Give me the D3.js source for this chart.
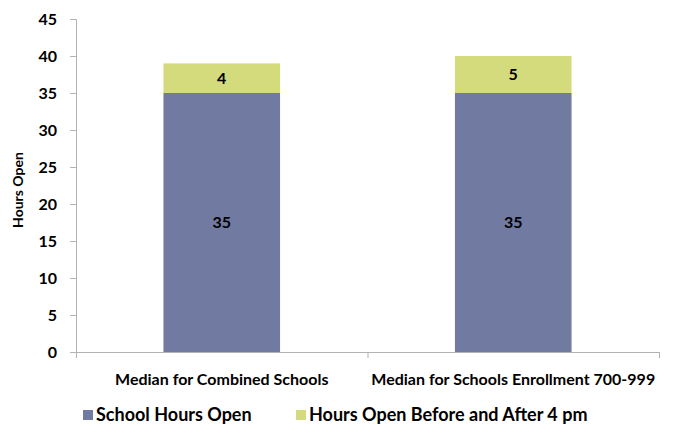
<!DOCTYPE html>
<html>
<head>
<meta charset="utf-8">
<script src="https://cdn.jsdelivr.net/npm/d3@7"></script>
<style>
  body { margin: 0; background: #fff; }
  text { font-family: Lato, "Open Sans", sans-serif; font-weight: bold; fill: #000; }
</style>
</head>
<body>
<div id="chart"></div>
<script>
// chart data
var categories = ["Median for Combined Schools", "Median for Schools Enrollment 700-999"];
var seriesNames = ["School Hours Open", "Hours Open Before and After 4 pm"];
var schoolHours = [35, 35];
var extraHours = [4, 5];
var yTicks = [0, 5, 10, 15, 20, 25, 30, 35, 40, 45];
var colors = ["#717aa0", "#d4db7c"];

var svgWidth = 674;
var svgHeight = 425;
var margin = { top: 19, right: 15, bottom: 73, left: 76 };
var width = svgWidth - margin.left - margin.right;
var height = svgHeight - margin.top - margin.bottom;

var svg = d3.select("#chart").append("svg")
    .attr("width", svgWidth)
    .attr("height", svgHeight);

var chartGroup = svg.append("g")
    .attr("transform", `translate(${margin.left}, ${margin.top})`);

var rows = categories.map(function(c, i) {
    return { cat: c, school: schoolHours[i], extra: extraHours[i] };
});
var stacked = d3.stack().keys(["school", "extra"])(rows);

var xScale = d3.scaleBand().domain(categories).range([0, width]).paddingInner(0.6).paddingOuter(0.3);
var yScale = d3.scaleLinear().domain([0, 45]).range([height, 0]);

// y axis
var yAxis = chartGroup.append("g")
    .call(d3.axisLeft(yScale).tickValues(yTicks).tickSize(6).tickPadding(13));
yAxis.select(".domain").attr("stroke", "#b3b3b3").attr("d", `M-6,0.5H0.5V${height}`);
yAxis.selectAll(".tick line").attr("stroke", "#b3b3b3");
yAxis.selectAll(".tick text").style("font-size", "16px");

// x axis line with ticks at band edges
var xg = chartGroup.append("g").attr("transform", `translate(0, ${height})`);
xg.append("line").attr("x1", 0).attr("x2", width).attr("y1", 0.5).attr("y2", 0.5).attr("stroke", "#b3b3b3");
[0, width / 2, width].forEach(function(x) {
    xg.append("line").attr("x1", x + 0.5).attr("x2", x + 0.5).attr("y1", 0).attr("y2", 6).attr("stroke", "#b3b3b3");
});
var halfStep = width / 4;
categories.forEach(function(c, i) {
    xg.append("text")
        .attr("x", halfStep * (2 * i + 1))
        .attr("y", 33)
        .attr("text-anchor", "middle")
        .style("font-size", "16px")
        .text(c);
});

// bars
stacked.forEach(function(layer, li) {
    chartGroup.selectAll(".bar" + li)
        .data(layer)
        .enter().append("rect")
        .attr("x", d => xScale(d.data.cat))
        .attr("width", xScale.bandwidth())
        .attr("y", d => yScale(d[1]))
        .attr("height", d => yScale(d[0]) - yScale(d[1]))
        .attr("fill", colors[li]);

    chartGroup.selectAll(".lbl" + li)
        .data(layer)
        .enter().append("text")
        .attr("x", d => xScale(d.data.cat) + xScale.bandwidth() / 2)
        .attr("y", d => yScale((d[0] + d[1]) / 2))
        .attr("dy", "0.35em")
        .attr("text-anchor", "middle")
        .style("font-size", "16px")
        .text(d => d[1] - d[0]);
});

// y axis title
svg.append("text")
    .attr("transform", "translate(23, 190) rotate(-90)")
    .attr("text-anchor", "middle")
    .style("font-size", "14px")
    .text("Hours Open");

// legend
var legendX = [83, 296];
seriesNames.forEach(function(name, i) {
    var g = svg.append("g").attr("transform", `translate(${legendX[i]}, 415)`);
    g.append("rect").attr("x", 0).attr("y", -5).attr("width", 10).attr("height", 10).attr("fill", colors[i]);
    g.append("text").attr("x", 13).attr("dy", "0.35em").style("font-size", "18px").text(name);
});
</script>
</body>
</html>
